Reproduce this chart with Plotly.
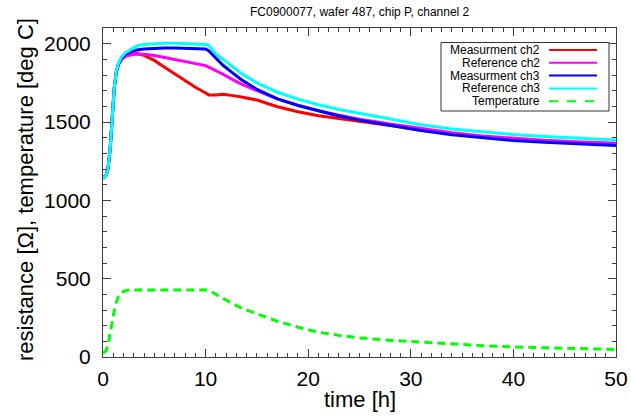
import plotly.graph_objects as go

# ---------------- data ----------------
time_h = [0, 0.3, 0.5, 0.7, 0.9, 1.1, 1.3, 1.5, 1.8, 2.2, 2.7, 3.3, 4, 5, 6, 7, 8, 9, 10,
          10.3, 11, 11.7, 12.5, 13.5, 15, 17, 19, 21, 23, 25, 28, 31, 34, 37, 40, 43, 46, 50]

meas_ch2 = [1140, 1160, 1210, 1330, 1530, 1720, 1820, 1865, 1900, 1922, 1933, 1937, 1925, 1893,
            1850, 1807, 1765, 1722, 1685, 1673, 1673, 1677, 1670, 1660, 1640, 1597, 1566, 1540,
            1522, 1505, 1478, 1448, 1425, 1405, 1390, 1379, 1370, 1360]
ref_ch2 = [1140, 1160, 1210, 1330, 1530, 1720, 1820, 1865, 1900, 1920, 1928, 1934, 1932, 1925,
           1912, 1900, 1888, 1873, 1860, 1850, 1828, 1805, 1775, 1742, 1700, 1648, 1608, 1572,
           1543, 1518, 1487, 1458, 1432, 1411, 1395, 1383, 1374, 1365]
meas_ch3 = [1140, 1160, 1210, 1330, 1530, 1720, 1822, 1870, 1908, 1933, 1950, 1960, 1966, 1970,
            1972, 1972, 1971, 1970, 1966, 1955, 1905, 1862, 1820, 1770, 1708, 1648, 1605, 1570,
            1538, 1512, 1478, 1446, 1418, 1398, 1382, 1370, 1360, 1350]
ref_ch3 = [1140, 1160, 1210, 1330, 1530, 1722, 1825, 1875, 1915, 1942, 1962, 1985, 1995, 2000,
           2002, 2002, 2000, 1998, 1995, 1990, 1935, 1900, 1862, 1810, 1750, 1690, 1646, 1610,
           1580, 1555, 1520, 1483, 1456, 1436, 1420, 1407, 1396, 1385]
temperature = [25, 40, 80, 160, 240, 300, 350, 385, 412, 425, 428, 428, 428, 428, 428, 428, 428,
               428, 428, 427, 400, 372, 345, 312, 274, 228, 190, 158, 138, 122, 106, 94, 82, 72,
               64, 58, 53, 48]

series_names = ["Measurment ch2", "Reference ch2", "Measurment ch3", "Reference ch3", "Temperature"]
series_colors = ["#ff0000", "#ff00ff", "#0000ff", "#00ffff", "#00ff00"]
series_values = [meas_ch2, ref_ch2, meas_ch3, ref_ch3, temperature]

title_text = "FC0900077, wafer 487, chip P, channel 2"
x_title = "time [h]"
y_title = "resistance [Ω], temperature [deg C]"

# ---------------- figure ----------------
W, H = 631, 416
L, R, T, B = 103, 15, 28, 59
pw, ph = W - L - R, H - T - B

fig = go.Figure()
for name, col, vals in zip(series_names, series_colors, series_values):
    dash = "8px,5px" if name == "Temperature" else "solid"
    fig.add_trace(go.Scatter(x=time_h, y=vals, mode="lines", name=name,
                             line=dict(color=col, width=3, dash=dash),
                             showlegend=False, hoverinfo="skip"))

FONT = "Liberation Sans, Arial, sans-serif"

def px2paper(x, y):
    return (x - L) / pw, (H - B - y) / ph

# manual legend (text on left, sample line on right, like IDL)
shapes = []
annotations = []
bx0, by0 = px2paper(441, 42.5)
bx1, by1 = px2paper(609, 111)
shapes.append(dict(type="rect", xref="paper", yref="paper", x0=bx0, x1=bx1, y0=by1, y1=by0,
                   line=dict(color="#333333", width=1), fillcolor="white", layer="above"))
row_y = [50, 62.8, 75.6, 88.4, 101.2]
for name, col, ry in zip(series_names, series_colors, row_y):
    lx0, ly = px2paper(549, ry)
    lx1, _ = px2paper(597, ry)
    dash = "dash" if name == "Temperature" else "solid"
    shapes.append(dict(type="line", xref="paper", yref="paper", x0=lx0, x1=lx1, y0=ly, y1=ly,
                       line=dict(color=col, width=2, dash=dash), layer="above"))
    tx, _ = px2paper(541, ry)
    annotations.append(dict(xref="paper", yref="paper", x=tx, y=ly, text=name, showarrow=False,
                            xanchor="right", yanchor="middle", borderpad=0,
                            font=dict(family=FONT, size=12, color="black")))

tx, ty = px2paper((L + W - R) / 2, 12)
annotations.append(dict(xref="paper", yref="paper", x=tx, y=ty, text=title_text,
                        showarrow=False, xanchor="center", yanchor="middle",
                        font=dict(family=FONT, size=12, color="black")))
tx, ty = px2paper((L + W - R) / 2, 399)
annotations.append(dict(xref="paper", yref="paper", x=tx, y=ty, text=x_title,
                        showarrow=False, xanchor="center", yanchor="middle",
                        font=dict(family=FONT, size=22, color="black")))
tx, ty = px2paper(25, 190)
annotations.append(dict(xref="paper", yref="paper", x=tx, y=ty, text=y_title, textangle=-90,
                        showarrow=False, xanchor="center", yanchor="middle",
                        font=dict(family=FONT, size=22, color="black")))

axis_common = dict(showline=True, linecolor="#404040", linewidth=1, mirror="allticks",
                   ticks="inside", ticklen=8, tickcolor="#404040", tickwidth=1,
                   showgrid=False, zeroline=False, automargin=False,
                   tickfont=dict(family=FONT, size=21, color="black"))

fig.update_layout(
    width=W, height=H,
    margin=dict(l=L, r=R, t=T, b=B, pad=0),
    paper_bgcolor="white", plot_bgcolor="white",
    xaxis=dict(range=[0, 50], dtick=10, tick0=0, ticklabelstandoff=3,
               minor=dict(dtick=1, ticklen=4, ticks="inside", tickcolor="#404040"),
               **axis_common),
    yaxis=dict(range=[0, 2100], dtick=500, tick0=0, ticklabelstandoff=7,
               minor=dict(dtick=100, ticklen=4, ticks="inside", tickcolor="#404040"),
               **axis_common),
    shapes=shapes,
    annotations=annotations,
    showlegend=False,
)

fig.write_html("out.html", config={"displayModeBar": False, "staticPlot": True},
               post_script="document.body.style.margin='0';document.body.style.overflow='hidden';")
